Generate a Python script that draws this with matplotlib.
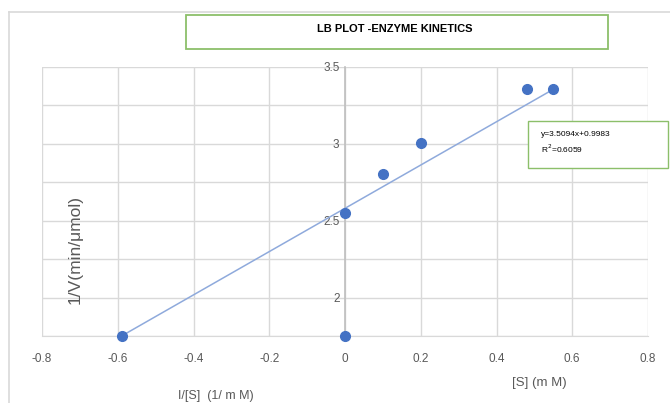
import matplotlib.pyplot as plt
import matplotlib.transforms as mtransforms
from matplotlib.patches import Rectangle
from matplotlib.lines import Line2D

# Lineweaver-Burk data points (1/[S], 1/V)
inv_s = [-0.59, 0.0, 0.0, 0.10, 0.20, 0.48, 0.55]
inv_v = [1.75, 1.75, 2.547, 2.80, 3.005, 3.352, 3.352]

# drawn trend line end points
trend_x = [-0.59, 0.55]
trend_y = [1.75, 3.352]

x_ticks = [-0.8, -0.6, -0.4, -0.2, 0.0, 0.2, 0.4, 0.6, 0.8]
x_tick_labels = ["-0.8", "-0.6", "-0.4", "-0.2", "0", "0.2", "0.4", "0.6", "0.8"]
y_ticks = [2.0, 2.5, 3.0, 3.5]
y_tick_labels = ["2", "2.5", "3", "3.5"]
y_minor = [1.75, 2.25, 2.75, 3.25]

title = "LB PLOT -ENZYME KINETICS"
eq_lines = ["y=3.5094x+0.9983", "R$^2$=0.6059"]

W, H = 670, 403
GRID = "#D9D9D9"
TXT = "#595959"
POINT = "#4472C4"
LINE = "#8FAADC"
BOX = "#8CBF6A"

plt.rcParams["font.family"] = ["Liberation Sans", "DejaVu Sans"]


def fx(px):
    return px / W


def fy(py):
    return 1 - py / H


fig = plt.figure(figsize=(W / 100, H / 100), dpi=100)

# chart frame (top and left edges visible)
fig.add_artist(Line2D([fx(8.5), 1.0], [fy(11.5), fy(11.5)], color="#D9D9D9", lw=1.2))
fig.add_artist(Line2D([fx(8.5), fx(8.5)], [fy(11.5), 0.0], color="#D9D9D9", lw=1.2))

ax = fig.add_axes([fx(42), fy(336), fx(648) - fx(42), fy(66.5) - fy(336)])
ax.set_xlim(-0.8, 0.8)
ax.set_ylim(1.75, 3.5)

ax.set_xticks(x_ticks)
ax.set_xticklabels(x_tick_labels)
ax.set_yticks(y_ticks)
ax.set_yticklabels(y_tick_labels)
ax.set_yticks(y_minor, minor=True)
ax.tick_params(axis="both", which="both", length=0, colors=TXT, labelsize=8.5)
ax.tick_params(axis="x", pad=12)
ax.tick_params(axis="y", pad=4)

# y labels sit a little above their gridlines
shift = mtransforms.ScaledTranslation(0, 3 / 100, fig.dpi_scale_trans)
for lab in ax.get_yticklabels():
    lab.set_transform(lab.get_transform() + shift)

ax.grid(True, which="both", color=GRID, lw=1.0)
ax.set_axisbelow(True)
for name in ["top", "right"]:
    ax.spines[name].set_visible(False)
ax.spines["bottom"].set_color(GRID)
ax.spines["left"].set_position(("data", 0))
ax.spines["left"].set_color("#BFBFBF")
ax.spines["left"].set_linewidth(1.2)

ax.plot(trend_x, trend_y, color=LINE, lw=1.1, zorder=3)
ax.plot(inv_s, inv_v, "o", color=POINT, markersize=7.0, zorder=4, clip_on=False)

# axis titles
fig.text(fx(75), fy(250), "1/V(min/\u03bcmol)", rotation=90, ha="center", va="center",
         fontsize=12.5, color=TXT)
fig.text(fx(216), fy(396), "I/[S]  (1/ m M)", ha="center", va="center", fontsize=9, color=TXT)
fig.text(fx(539), fy(383), "[S] (m M)", ha="center", va="center", fontsize=9.5, color=TXT)

# title box
fig.add_artist(Rectangle((fx(186), fy(49)), fx(608) - fx(186), fy(15) - fy(49),
                         transform=fig.transFigure, fill=False, edgecolor=BOX, lw=1.3))
fig.text(fx(395), fy(29), title, ha="center", va="center", fontsize=8,
         fontweight="bold", color="black")

# equation box
fig.add_artist(Rectangle((fx(528), fy(168)), fx(668) - fx(528), fy(121) - fy(168),
                         transform=fig.transFigure, facecolor="white", edgecolor=BOX,
                         lw=1.0, zorder=5))
fig.text(fx(541), fy(135), eq_lines[0], ha="left", va="center", fontsize=6,
         color="black", zorder=6)
fig.text(fx(541), fy(149), eq_lines[1], ha="left", va="center", fontsize=6,
         color="black", zorder=6)

fig.savefig("out.png", dpi=100)
